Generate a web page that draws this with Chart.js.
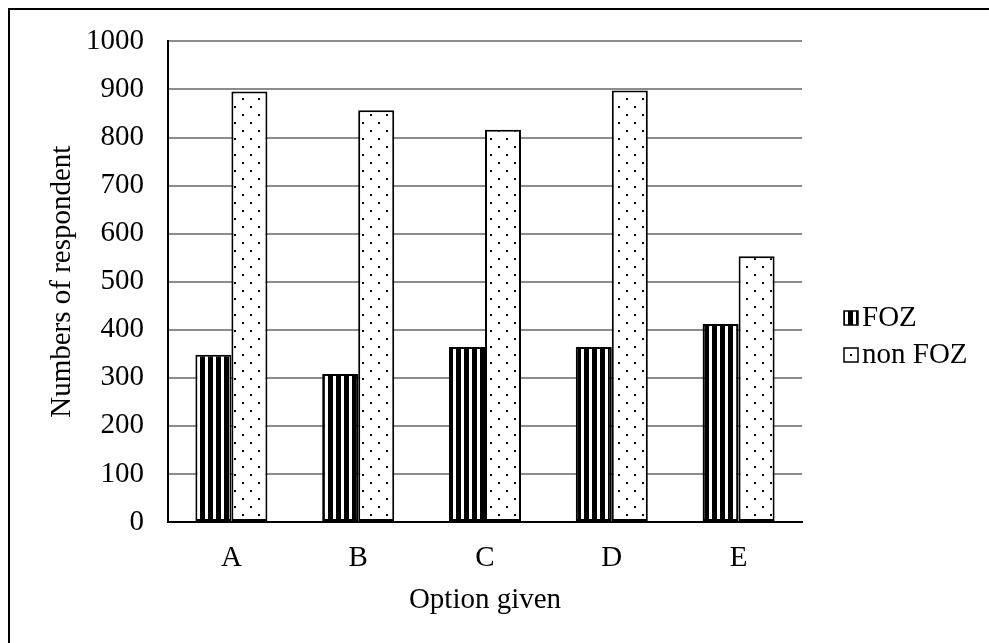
<!DOCTYPE html>
<html><head><meta charset="utf-8">
<script src="https://cdn.jsdelivr.net/npm/chart.js@4/dist/chart.umd.min.js"></script>
<style>html,body{margin:0;padding:0;background:#fff;overflow:hidden}#wrap{width:989px;height:643px;position:relative}</style>
</head><body><div id="wrap"><canvas id="c" width="989" height="643"></canvas></div>
<script>
const categories = ['A', 'B', 'C', 'D', 'E'];
const seriesNames = ['FOZ', 'non FOZ'];
const fozValues = [348, 308, 364, 364, 412];
const nonFozValues = [896, 857, 816, 898, 553];
const yMin = 0, yMax = 1000, yStep = 100;
const xTitle = 'Option given';
const yTitle = 'Numbers of respondent';

const FONT = "'Liberation Serif', 'Times New Roman', serif";
const canvas = document.getElementById('c');
const ctx = canvas.getContext('2d');

function stripePattern() {
  const c = document.createElement('canvas'); c.width = 8; c.height = 8;
  const x = c.getContext('2d');
  x.fillStyle = '#fff'; x.fillRect(0, 0, 8, 8);
  x.fillStyle = '#000'; x.fillRect(0, 0, 5, 8);
  return ctx.createPattern(c, 'repeat');
}
function dotPattern() {
  const c = document.createElement('canvas'); c.width = 16; c.height = 16;
  const x = c.getContext('2d');
  x.fillStyle = '#fff'; x.fillRect(0, 0, 16, 16);
  x.fillStyle = '#000'; x.fillRect(2, 2, 2, 2); x.fillRect(10, 10, 2, 2);
  return ctx.createPattern(c, 'repeat');
}
const fills = [stripePattern(), dotPattern()];

const framePlugin = {
  id: 'frame',
  beforeDraw(chart) {
    const g = chart.ctx;
    g.save();
    g.fillStyle = '#fff'; g.fillRect(0, 0, chart.width, chart.height);
    g.strokeStyle = '#000'; g.lineWidth = 2;
    g.strokeRect(9, 9, 1200, 1200);
    g.restore();
  }
};
const legendPlugin = {
  id: 'customLegend',
  afterDraw(chart) {
    const g = chart.ctx;
    const rows = [318, 355];
    g.save();
    chart.data.datasets.forEach((ds, i) => {
      const y = rows[i];
      g.fillStyle = ds.backgroundColor;
      g.fillRect(844, y - 7, 14, 14);
      g.strokeStyle = '#000'; g.lineWidth = 1.5;
      g.strokeRect(844, y - 7, 14, 14);
      g.fillStyle = '#000';
      g.font = '29px ' + FONT;
      g.textBaseline = 'middle'; g.textAlign = 'left';
      g.fillText(ds.label, 862, y);
    });
    g.restore();
  }
};

new Chart(canvas, {
  type: 'bar',
  data: {
    labels: categories,
    datasets: [
      { label: seriesNames[0], data: fozValues, backgroundColor: fills[0], borderColor: '#000', borderWidth: 2, borderSkipped: false, categoryPercentage: 0.568, barPercentage: 1.0 },
      { label: seriesNames[1], data: nonFozValues, backgroundColor: fills[1], borderColor: '#000', borderWidth: 2, borderSkipped: false, categoryPercentage: 0.568, barPercentage: 1.0 }
    ]
  },
  options: {
    responsive: false,
    devicePixelRatio: 1,
    animation: false,
    layout: { padding: { top: 38, right: 187, left: 0, bottom: 0 } },
    plugins: { legend: { display: false }, tooltip: { enabled: false } },
    scales: {
      x: {
        grid: { display: false, drawTicks: false },
        border: { display: true, color: '#000', width: 2 },
        ticks: { color: '#000', font: { family: FONT, size: 29 }, padding: 19 },
        title: { display: true, text: xTitle, color: '#000', font: { family: FONT, size: 29 }, padding: { top: 0, bottom: 25 } },
        afterFit(s) { s.height = 121; }
      },
      y: {
        min: yMin, max: yMax,
        grid: { color: '#8c8c8c', lineWidth: 2, drawTicks: false },
        border: { display: true, color: '#000', width: 2 },
        ticks: { stepSize: yStep, color: '#000', font: { family: FONT, size: 29 }, padding: 24, callback: v => String(v) },
        title: { display: true, text: yTitle, color: '#000', font: { family: FONT, size: 29 }, padding: { top: 45, bottom: 0 } },
        afterFit(s) { s.width = 168; }
      }
    }
  },
  plugins: [framePlugin, legendPlugin]
});
</script></body></html>
